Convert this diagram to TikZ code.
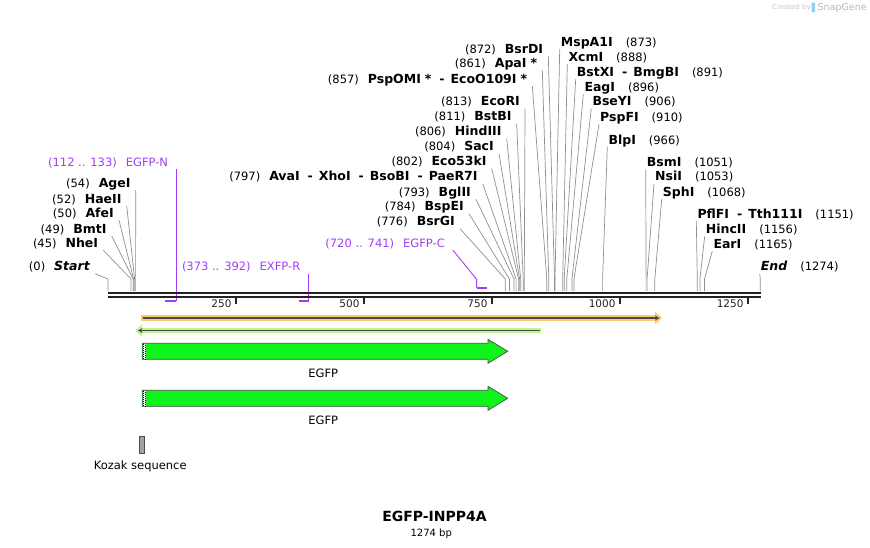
\documentclass[tikz,border=0pt]{standalone}
\usepackage{fontspec}
\setmainfont{DejaVu Sans}
\usetikzlibrary{arrows.meta}

\definecolor{leadc}{HTML}{8F8F8F}
\definecolor{prim}{HTML}{A23DF2}
\definecolor{axisc}{HTML}{222222}
\definecolor{orgband}{HTML}{FFC970}
\definecolor{grnband}{HTML}{C2F58C}
\definecolor{darkln}{HTML}{4A4A4A}
\definecolor{featgrn}{HTML}{0FF51C}
\definecolor{kozakc}{HTML}{9EA2AA}
\definecolor{snapblue}{HTML}{8FD3F2}

\newcommand{\numf}{\fontsize{11.5}{12}\selectfont}
\newcommand{\namef}{\fontsize{12.5}{13}\selectfont\bfseries}
\newcommand{\enzL}[2]{{\numf(#1)}\hspace{9pt}{\namef #2}}
\newcommand{\enzR}[2]{{\namef #1}\hspace{13pt}{\numf(#2)}}
\newcommand{\orsep}{\hspace{8pt}-\hspace{6pt}}
\newcommand{\enzstar}{\hspace{4pt}*}

\begin{document}
\begin{tikzpicture}[x=1pt,y=-1pt,
  enzl/.style={anchor=east,inner xsep=5pt,inner ysep=0pt,text height=9pt,text depth=2.5pt},
  enzr/.style={anchor=west,inner xsep=1pt,inner ysep=0pt,text height=9pt,text depth=2.5pt},
  prml/.style={anchor=east,inner xsep=8pt,inner ysep=0pt,text height=9pt,text depth=2.5pt,
    text=prim,font=\fontsize{11.5}{13}\selectfont},
  leader/.style={draw=leadc,line width=0.7pt},
  primln/.style={draw=prim,line width=0.9pt},
  primbar/.style={draw=prim,line width=2pt},
  ticklbl/.style={anchor=east,inner sep=0pt,xshift=-3.5pt,font=\fontsize{10.5}{12}\selectfont},
  feat/.style={draw=darkln,line width=0.7pt,fill=featgrn},
  featlbl/.style={inner sep=0pt,font=\fontsize{11.5}{13}\selectfont}]
\useasboundingbox (0,0) rectangle (870,548);

% watermark
\node[anchor=west,inner sep=0pt,text=gray!45,font=\fontsize{7}{8}\selectfont] (made) at (772,7.5) {Created by};
\fill[snapblue,rounded corners=1pt] (811.5,2.5) rectangle (815,12.5);
\node[anchor=west,inner sep=0pt,text=gray!55,font=\fontsize{9.5}{10}\selectfont] (snap) at (817.5,7.5) {SnapGene};

% cut sites on the axis
\coordinate (cut0) at (108,291);
\coordinate (cut45) at (131,291);
\coordinate (cut49) at (133.1,291);
\coordinate (cut50) at (133.6,291);
\coordinate (cut52) at (134.6,291);
\coordinate (cut54) at (135.6,291);
\coordinate (cut776) at (505.3,291);
\coordinate (cut784) at (509.4,291);
\coordinate (cut793) at (514,291);
\coordinate (cut797) at (516.1,291);
\coordinate (cut802) at (518.6,291);
\coordinate (cut804) at (519.6,291);
\coordinate (cut806) at (520.7,291);
\coordinate (cut811) at (523.2,291);
\coordinate (cut813) at (524.3,291);
\coordinate (cut857) at (546.8,291);
\coordinate (cut861) at (548.8,291);
\coordinate (cut872) at (554.5,291);
\coordinate (cut873) at (555,291);
\coordinate (cut888) at (562.7,291);
\coordinate (cut891) at (564.2,291);
\coordinate (cut896) at (566.8,291);
\coordinate (cut906) at (571.9,291);
\coordinate (cut910) at (573.9,291);
\coordinate (cut966) at (602.6,291);
\coordinate (cut1051) at (646.1,291);
\coordinate (cut1053) at (647.1,291);
\coordinate (cut1068) at (654.8,291);
\coordinate (cut1151) at (697.3,291);
\coordinate (cut1156) at (699.9,291);
\coordinate (cut1165) at (704.5,291);
\coordinate (cut1274) at (760.3,291);

% enzymes, labels left of the site
\node[enzl] (start) at (95,267.7) {\enzL{0}{\itshape Start}};
\node[enzl] (nheI) at (103.3,244.3) {\enzL{45}{NheI}};
\node[enzl] (bmtI) at (111.7,230) {\enzL{49}{BmtI}};
\node[enzl] (afeI) at (119,214.3) {\enzL{50}{AfeI}};
\node[enzl] (haeII) at (126.7,200) {\enzL{52}{HaeII}};
\node[enzl] (ageI) at (135.7,184.3) {\enzL{54}{AgeI}};
\node[enzl] (bsrGI) at (460,222.7) {\enzL{776}{BsrGI}};
\node[enzl] (bspEI) at (469,207.7) {\enzL{784}{BspEI}};
\node[enzl] (bglII) at (476,193.3) {\enzL{793}{BglII}};
\node[enzl] (avaI) at (482.7,177.7) {\enzL{797}{AvaI\orsep XhoI\orsep BsoBI\orsep PaeR7I}};
\node[enzl] (eco53kI) at (491.7,162.7) {\enzL{802}{Eco53kI}};
\node[enzl] (sacI) at (499,147.7) {\enzL{804}{SacI}};
\node[enzl] (hindIII) at (506.7,132.7) {\enzL{806}{HindIII}};
\node[enzl] (bstBI) at (516.7,117.7) {\enzL{811}{BstBI}};
\node[enzl] (ecoRI) at (525,102.7) {\enzL{813}{EcoRI}};
\node[enzl] (pspOMI) at (532.3,80) {\enzL{857}{PspOMI\enzstar\orsep EcoO109I\enzstar}};
\node[enzl] (apaI) at (542.3,64.3) {\enzL{861}{ApaI\enzstar}};
\node[enzl] (bsrDI) at (548.3,50) {\enzL{872}{BsrDI}};

% enzymes, labels right of the site
\node[enzr] (mspA1I) at (559.7,43.3) {\enzR{MspA1I}{873}};
\node[enzr] (xcmI) at (567.3,58.3) {\enzR{XcmI}{888}};
\node[enzr] (bstXI) at (575.7,73.3) {\enzR{BstXI\orsep BmgBI}{891}};
\node[enzr] (eagI) at (583.3,88.3) {\enzR{EagI}{896}};
\node[enzr] (bseYI) at (591.3,102.7) {\enzR{BseYI}{906}};
\node[enzr] (pspFI) at (599,118.3) {\enzR{PspFI}{910}};
\node[enzr] (blpI) at (607.3,141) {\enzR{BlpI}{966}};
\node[enzr] (bsmI) at (645.7,163.7) {\enzR{BsmI}{1051}};
\node[enzr] (nsiI) at (654,177.7) {\enzR{NsiI}{1053}};
\node[enzr] (sphI) at (661.7,193.3) {\enzR{SphI}{1068}};
\node[enzr] (pflFI) at (696.3,215) {\enzR{PflFI\orsep Tth111I}{1151}};
\node[enzr] (hincII) at (704.7,230.3) {\enzR{HincII}{1156}};
\node[enzr] (earI) at (712.3,245) {\enzR{EarI}{1165}};
\node[enzr] (end) at (759.7,267.7) {\enzR{\itshape End}{1274}};

% leaders
\draw[leader] (start.south east) -- (cut0 |- 0,279) -- (cut0);
\draw[leader] (nheI.south east) -- (cut45 |- 0,279) -- (cut45);
\draw[leader] (bmtI.south east) -- (cut49 |- 0,279) -- (cut49);
\draw[leader] (afeI.south east) -- (cut50 |- 0,279) -- (cut50);
\draw[leader] (haeII.south east) -- (cut52 |- 0,279) -- (cut52);
\draw[leader] (ageI.south east) -- (cut54 |- 0,279) -- (cut54);
\draw[leader] (bsrGI.south east) -- (cut776 |- 0,279) -- (cut776);
\draw[leader] (bspEI.south east) -- (cut784 |- 0,279) -- (cut784);
\draw[leader] (bglII.south east) -- (cut793 |- 0,279) -- (cut793);
\draw[leader] (avaI.south east) -- (cut797 |- 0,279) -- (cut797);
\draw[leader] (eco53kI.south east) -- (cut802 |- 0,279) -- (cut802);
\draw[leader] (sacI.south east) -- (cut804 |- 0,279) -- (cut804);
\draw[leader] (hindIII.south east) -- (cut806 |- 0,279) -- (cut806);
\draw[leader] (bstBI.south east) -- (cut811 |- 0,279) -- (cut811);
\draw[leader] (ecoRI.south east) -- (cut813 |- 0,279) -- (cut813);
\draw[leader] (pspOMI.south east) -- (cut857 |- 0,279) -- (cut857);
\draw[leader] (apaI.south east) -- (cut861 |- 0,279) -- (cut861);
\draw[leader] (bsrDI.south east) -- (cut872 |- 0,279) -- (cut872);
\draw[leader] (mspA1I.south west) -- (cut873 |- 0,279) -- (cut873);
\draw[leader] (xcmI.south west) -- (cut888 |- 0,279) -- (cut888);
\draw[leader] (bstXI.south west) -- (cut891 |- 0,279) -- (cut891);
\draw[leader] (eagI.south west) -- (cut896 |- 0,279) -- (cut896);
\draw[leader] (bseYI.south west) -- (cut906 |- 0,279) -- (cut906);
\draw[leader] (pspFI.south west) -- (cut910 |- 0,279) -- (cut910);
\draw[leader] (blpI.south west) -- (cut966 |- 0,279) -- (cut966);
\draw[leader] (bsmI.south west) -- (cut1051 |- 0,279) -- (cut1051);
\draw[leader] (nsiI.south west) -- (cut1053 |- 0,279) -- (cut1053);
\draw[leader] (sphI.south west) -- (cut1068 |- 0,279) -- (cut1068);
\draw[leader] (pflFI.south west) -- (cut1151 |- 0,279) -- (cut1151);
\draw[leader] (hincII.south west) -- (cut1156 |- 0,279) -- (cut1156);
\draw[leader] (earI.south west) -- (cut1165 |- 0,279) -- (cut1165);
\draw[leader] (end.south west) -- (cut1274 |- 0,279) -- (cut1274);

% primers
\coordinate (nA) at (165.3,300.5);
\coordinate (nB) at (176.1,300.5);
\node[prml] (egfpN) at (176.3,163.3) {(112 .. 133)\hspace{9pt}EGFP-N};
\draw[primln] (egfpN.south east -| nB) -- (nB);
\draw[primbar] (nA) -- (nB);
\coordinate (rA) at (299,300.5);
\coordinate (rB) at (308.7,300.5);
\node[prml] (exfpR) at (308.5,267.7) {(373 .. 392)\hspace{9pt}EXFP-R};
\draw[primln] (exfpR.south east -| rB) -- (rB);
\draw[primbar] (rA) -- (rB);
\coordinate (cA) at (476.6,287.7);
\coordinate (cB) at (487.4,287.7);
\node[prml] (egfpC) at (453,244.3) {(720 .. 741)\hspace{9pt}EGFP-C};
\draw[primln] (egfpC.south east) -- (cA |- 0,279.3) -- (cA);
\draw[primbar] (cA) -- (cB);

% sequence axis
\draw[axisc,line width=2.6pt] (108,293) -- (761,293);
\draw[axisc,line width=2pt] (108,296.7) -- (761,296.7);
\draw[axisc,line width=2pt] (236,298) -- (236,304) node[ticklbl] (t250) {250};
\draw[axisc,line width=2pt] (364,298) -- (364,304) node[ticklbl] (t500) {500};
\draw[axisc,line width=2pt] (492,298) -- (492,304) node[ticklbl] (t750) {750};
\draw[axisc,line width=2pt] (620,298) -- (620,304) node[ticklbl] (t1000) {1000};
\draw[axisc,line width=2pt] (748,298) -- (748,304) node[ticklbl] (t1250) {1250};

% ORFs
\draw[orgband,line width=5.7pt,-{Triangle[length=7pt,width=12pt]}] (141,318) -- (662,318);
\draw[darkln,line width=1.8pt,-{Stealth[length=4.5pt,width=5pt]}] (142.5,318) -- (659.5,318);
\draw[grnband,line width=5.7pt,-{Triangle[length=7pt,width=12pt]}] (541,330.5) -- (135,330.5);
\draw[darkln,line width=1.8pt,-{Stealth[length=4.5pt,width=5pt]}] (539.5,330.5) -- (138,330.5);

% features
\draw[feat] (142.3,343.3) -- (488,343.3) -- (488,339.3) -- (507.7,351.3) -- (488,363.3)
  -- (488,359.3) -- (142.3,359.3) -- cycle;
\fill[white] (142.7,343.6) rectangle (145.7,359);
\draw[black,line width=0.8pt,dash pattern=on 1pt off 1pt] (143.2,343.6) -- (143.2,359);
\draw[black,line width=0.8pt,dash pattern=on 1pt off 1pt] (145.2,344.6) -- (145.2,359);
\node[featlbl] (egfp1) at (323.3,373.3) {EGFP};
\draw[feat] (142.3,390.3) -- (488,390.3) -- (488,386.3) -- (507.7,398.3) -- (488,410.3)
  -- (488,406.3) -- (142.3,406.3) -- cycle;
\fill[white] (142.7,390.6) rectangle (145.7,406);
\draw[black,line width=0.8pt,dash pattern=on 1pt off 1pt] (143.2,390.6) -- (143.2,406);
\draw[black,line width=0.8pt,dash pattern=on 1pt off 1pt] (145.2,391.6) -- (145.2,406);
\node[featlbl] (egfp2) at (323.3,420.3) {EGFP};
\draw[darkln,line width=0.7pt,fill=kozakc] (139.3,436.7) rectangle (144.3,453.3);
\node[featlbl] (kozak) at (140.2,466.7) {Kozak sequence};

% title
\node[inner sep=0pt,font=\fontsize{14}{16}\selectfont\bfseries] (title) at (434.5,516.7) {EGFP-INPP4A};
\node[inner sep=0pt,font=\fontsize{10}{11}\selectfont] (size) at (431.2,533.3) {1274 bp};
\end{tikzpicture}
\end{document}
